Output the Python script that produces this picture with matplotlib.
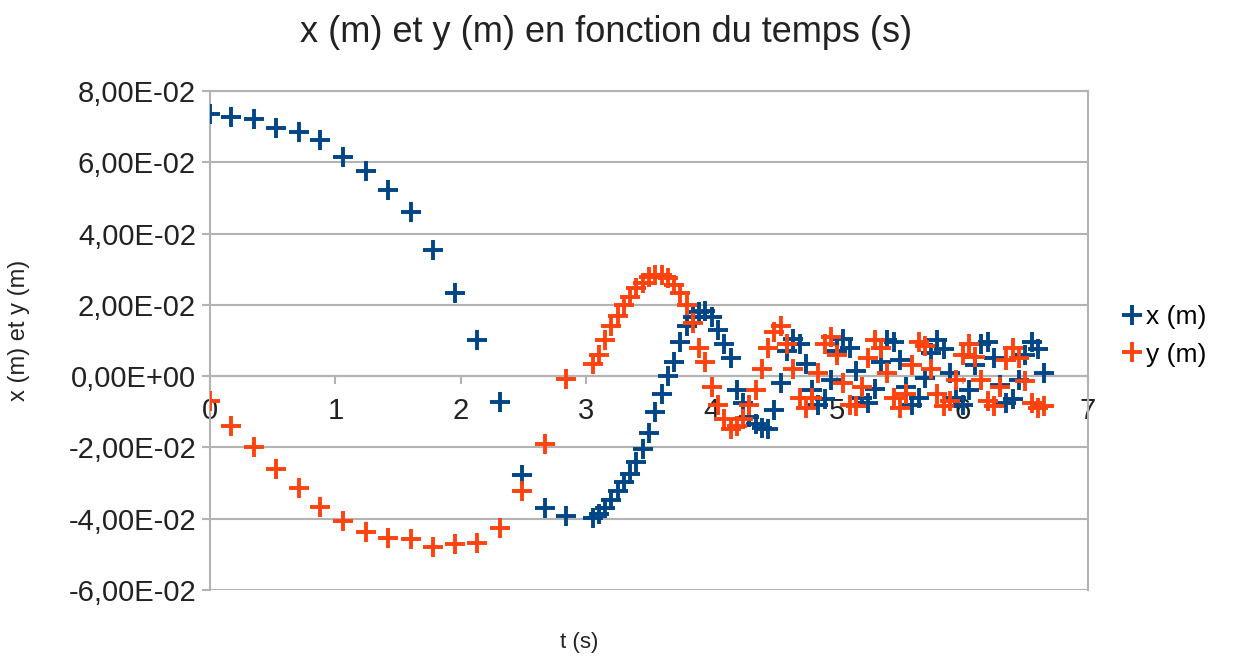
import matplotlib
matplotlib.use("Agg")
import matplotlib.pyplot as plt
from matplotlib.ticker import FuncFormatter, MultipleLocator

plt.rcParams['font.family'] = ['Liberation Sans', 'DejaVu Sans']

t_s = [0.00, 0.17, 0.35, 0.53, 0.71, 0.88, 1.06, 1.24, 1.42, 1.60, 1.78, 1.95, 2.13, 2.31, 2.49, 2.67, 2.84,
       3.05, 3.10, 3.15, 3.20, 3.25, 3.30, 3.35, 3.40, 3.45, 3.50, 3.55, 3.60, 3.65, 3.70, 3.75, 3.80, 3.85, 3.90,
       3.95, 4.00, 4.05, 4.10, 4.15, 4.20, 4.25, 4.30, 4.35, 4.40, 4.45, 4.50, 4.55,
       4.60, 4.65, 4.70, 4.75, 4.80, 4.85, 4.90, 4.95, 5.00, 5.05,
       5.10, 5.15, 5.20, 5.25, 5.30, 5.35, 5.40, 5.45, 5.50, 5.55,
       5.60, 5.65, 5.70, 5.75, 5.80, 5.85, 5.90, 5.95, 6.00, 6.05,
       6.10, 6.15, 6.20, 6.25, 6.30, 6.35, 6.40, 6.45, 6.50, 6.55,
       6.60, 6.65]

x_m = [0.0735, 0.0727, 0.0721, 0.0696, 0.0684, 0.0662, 0.0614, 0.0575, 0.0522, 0.0460, 0.0353, 0.0233, 0.0101,
       -0.0073, -0.0278, -0.0370, -0.0393,
       -0.0398, -0.0388, -0.0370, -0.0348, -0.0322, -0.0298, -0.0275, -0.0240, -0.0205, -0.0160, -0.0100, -0.0050,
       0.0000, 0.0040, 0.0095, 0.0140, 0.0165, 0.0180,
       0.0182, 0.0166, 0.0130, 0.0090, 0.0050, -0.0040, -0.0075, -0.0115, -0.0135, -0.0145, -0.0148, -0.0095, -0.0020,
       0.0070, 0.0105, 0.0090, 0.0035, -0.0040, -0.0080, -0.0065, -0.0010, 0.0070, 0.0105,
       0.0080, 0.0015, -0.0060, -0.0075, -0.0035, 0.0040, 0.0100, 0.0095, 0.0045, -0.0030,
       -0.0080, -0.0060, -0.0005, 0.0065, 0.0100, 0.0075, 0.0010, -0.0060, -0.0080, -0.0040,
       0.0030, 0.0090, 0.0095, 0.0050, -0.0025, -0.0075, -0.0065, -0.0010, 0.0060, 0.0095,
       0.0075, 0.0010]

y_m = [-0.0070, -0.0140, -0.0199, -0.0261, -0.0314, -0.0367, -0.0407, -0.0438, -0.0454, -0.0457, -0.0480, -0.0471,
       -0.0468, -0.0426, -0.0323, -0.0191, -0.0008,
       0.0035, 0.0060, 0.0100, 0.0140, 0.0170, 0.0200, 0.0222, 0.0248, 0.0262, 0.0278, 0.0285, 0.0283, 0.0275,
       0.0255, 0.0232, 0.0200, 0.0148, 0.0080,
       0.0040, -0.0030, -0.0080, -0.0120, -0.0148, -0.0140, -0.0120, -0.0080, -0.0040, 0.0020,
       0.0080, 0.0125, 0.0140, 0.0090, 0.0020, -0.0060, -0.0090, -0.0060, 0.0010, 0.0090,
       0.0110, 0.0060, -0.0020, -0.0080, -0.0085, -0.0030, 0.0050, 0.0100, 0.0080, 0.0010,
       -0.0060, -0.0090, -0.0050, 0.0030, 0.0095, 0.0085, 0.0020, -0.0050, -0.0085, -0.0070,
       -0.0010, 0.0060, 0.0090, 0.0055, -0.0010, -0.0070, -0.0085, -0.0030, 0.0045, 0.0080,
       0.0050, -0.0015, -0.0075, -0.0090, -0.0085]

title = "x (m) et y (m) en fonction du temps (s)"
series_names = ["x (m)", "y (m)"]
colors = ["#004586", "#ff420e"]

fig = plt.figure(figsize=(12.37, 6.61), dpi=100)
ax = fig.add_axes([210/1237, 1-590/661, (1088-210)/1237, (590-91)/661])

grid_c = "#b3b3b3"
ax.plot(t_s, x_m, linestyle='none', marker='+', markersize=14.5, markeredgewidth=2.8,
        color=colors[0], label=series_names[0], zorder=3)
ax.plot(t_s, y_m, linestyle='none', marker='+', markersize=14.5, markeredgewidth=2.8,
        color=colors[1], label=series_names[1], zorder=4)

ax.set_xlim(0, 7)
ax.set_ylim(-0.06, 0.08)
ax.yaxis.set_major_locator(MultipleLocator(0.02))
ax.xaxis.set_major_locator(MultipleLocator(1))

def yfmt(v, pos):
    return f"{v:.2E}".replace('.', ',')
ax.yaxis.set_major_formatter(FuncFormatter(yfmt))
ax.xaxis.set_major_formatter(FuncFormatter(lambda v, p: f"{int(round(v))}"))

ax.grid(axis='y', color=grid_c, linewidth=1.5)
ax.set_axisbelow(True)
for s in ['left', 'right', 'top', 'bottom']:
    ax.spines[s].set_color(grid_c)
    ax.spines[s].set_linewidth(1.5)
ax.spines['bottom'].set_position(('data', 0))

ax.tick_params(axis='y', colors=grid_c, labelcolor='#222222', labelsize=21, length=6, width=1.5, pad=4)
ax.tick_params(axis='x', colors=grid_c, labelcolor='#222222', labelsize=21, length=6, width=1.5, pad=9)

ax.set_xlabel("t (s)", fontsize=16, color='#222222')
ax.xaxis.set_label_coords(0.42, -0.085)
ax.set_ylabel("x (m) et y (m)", fontsize=17, color='#222222')
ax.yaxis.set_label_coords(-0.205, 0.52)

fig.text(606/1237, 1-33/661, title, fontsize=26, ha='center', va='center', color='#222222')

fig.legend(loc='center left', bbox_to_anchor=(1108/1237, 1-336/661), frameon=False,
           fontsize=19, handlelength=0.8, handletextpad=0.15, labelspacing=0.5, borderpad=0)

fig.savefig("out.png", dpi=100)
